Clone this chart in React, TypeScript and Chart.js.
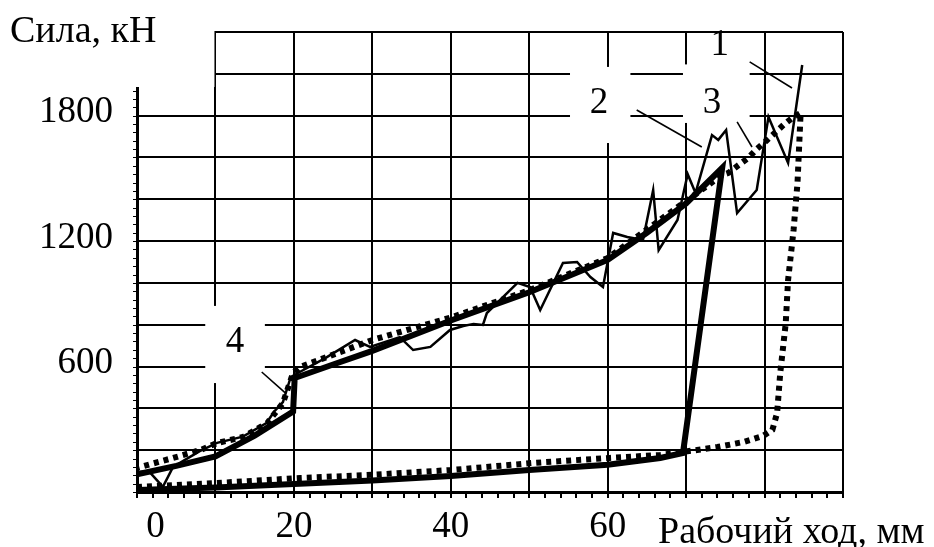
import React, { useEffect, useRef } from 'react';
import { Chart, registerables } from 'chart.js';

Chart.register(...registerables);

// Axis tick labels (mm, kN)
const xTickLabels = [0, 20, 40, 60];
const yTickLabels = [600, 1200, 1800];

// Curve 4 (heavy solid): upper branch 0 → 74.6 mm, steep drop, lower branch back to 0
const thickX = [0, 5, 10, 15, 19.9, 20.1, 25, 30, 40, 50, 60, 65, 70, 74.6, 69.6, 66.7, 60, 50, 40, 30, 20, 10, 0];
const thickY = [85, 125, 170, 270, 385, 545, 610, 675, 820, 955, 1110, 1240, 1380, 1550, 187, 163, 130, 105, 77, 55, 38, 22, 10];

// Curve 1/3 (dotted): lower branch, sharp rise at the end of stroke, upper branch back
const dotX = [0, 10.2, 20.8, 29.3, 40, 50.5, 60.3, 66.7, 71.4, 74, 77.3, 79.8, 81, 81.6, 82, 82.7, 83, 83.7, 84.2, 84.6,
  83.7, 82.4, 81.3, 80.2, 79, 77.9, 76.7, 75.4, 74.6, 69.3, 60, 50.1, 40.2, 30, 20.8, 19.9, 18.6, 16.6, 13.5, 10.2, 8.1, 4.6, 0];
const dotY = [24, 43, 67, 81, 105, 139, 163, 177, 201, 215, 239, 268, 297, 378, 569, 808, 1014, 1253, 1478, 1813,
  1794, 1755, 1717, 1679, 1640, 1597, 1564, 1526, 1516, 1373, 1119, 966, 837, 727, 598, 570, 425, 330, 263, 234, 201, 163, 115];

// Curve 2 (thin, measured): oscillating force along the working stroke
const thinX = [0, 1.5, 3.3, 4.6, 8, 10.2, 13.5, 16.5, 17.5, 18.6, 19.6, 20.8, 24, 27.8, 29.7, 33.5, 35.2, 37.4, 39.9, 41.6,
  42.9, 44.1, 44.6, 48.5, 50.1, 51.4, 54.3, 56.1, 57.8, 59.4, 60.7, 62.5, 64.5, 65.8, 66.5, 68.9, 70.2, 71.2, 73.3, 74.1,
  75.1, 76.5, 79, 80.5, 83, 84.8];
const thinY = [95, 100, 25, 120, 195, 235, 265, 330, 385, 430, 550, 575, 640, 727, 694, 741, 679, 694, 775, 794,
  804, 799, 856, 1000, 980, 870, 1095, 1100, 1028, 980, 1239, 1220, 1205, 1444, 1157, 1301, 1520, 1430, 1707, 1684,
  1731, 1334, 1444, 1794, 1574, 2042];

const zip = (xs: number[], ys: number[]) => xs.map((x, i) => ({ x, y: ys[i] }));

const FONT = "'Liberation Serif', 'Times New Roman', serif";

// Curve numbers with their leader lines (data units)
const callouts = [
  { text: '1', x: 74.3, y: 2090, from: [78.1, 2057], to: [83.5, 1932] },
  { text: '2', x: 58.9, y: 1813, from: [63.7, 1827], to: [72.0, 1650] },
  { text: '3', x: 73.3, y: 1813, from: [76.5, 1770], to: [78.4, 1650] },
  { text: '4', x: 12.5, y: 670, from: [15.9, 574], to: [18.9, 474] },
];

// White areas behind the callout numbers where the grid is interrupted (data units)
const gridGaps = [
  { x0: 55.2, x1: 62.9, y0: 1669, y1: 2033 },
  { x0: 69.6, x1: 78.1, y0: 1765, y1: 2045 },
  { x0: 8.7, x1: 16.3, y0: 521, y1: 890 },
];

const overlayPlugin = {
  id: 'overlay',
  beforeDatasetsDraw(chart: any) {
    const { ctx, chartArea, scales } = chart;
    const xs = scales.x, ys = scales.y;
    ctx.save();
    ctx.fillStyle = '#fff';
    for (const g of gridGaps) {
      const l = xs.getPixelForValue(g.x0), r = xs.getPixelForValue(g.x1);
      const t = ys.getPixelForValue(g.y1), b = ys.getPixelForValue(g.y0);
      ctx.fillRect(l, t, r - l, b - t);
    }
    // upper-left corner left open for the axis title
    const cornerR = xs.getPixelForValue(10) - 1;
    const cornerB = ys.getPixelForValue(1937);
    ctx.fillRect(chartArea.left - 6, 0, cornerR - chartArea.left + 6, cornerB);

    // minor ticks
    ctx.strokeStyle = '#000';
    ctx.lineWidth = 2;
    ctx.beginPath();
    for (let v = 0; v <= 90; v += 2) {
      const px = Math.round(xs.getPixelForValue(v));
      ctx.moveTo(px, chartArea.bottom);
      ctx.lineTo(px, chartArea.bottom + 6);
    }
    ctx.stroke();
    ctx.lineWidth = 1;
    ctx.beginPath();
    for (let v = 0; v <= 1920; v += 40) {
      const py = Math.round(ys.getPixelForValue(v)) + 0.5;
      ctx.moveTo(chartArea.left - 4, py);
      ctx.lineTo(chartArea.left, py);
    }
    ctx.stroke();
    ctx.restore();
  },
  afterDatasetsDraw(chart: any) {
    const { ctx, scales } = chart;
    const xs = scales.x, ys = scales.y;
    ctx.save();
    ctx.strokeStyle = '#000';
    ctx.lineWidth = 1.6;
    ctx.fillStyle = '#000';
    ctx.font = `37px ${FONT}`;
    ctx.textAlign = 'center';
    ctx.textBaseline = 'alphabetic';
    for (const c of callouts) {
      ctx.beginPath();
      ctx.moveTo(xs.getPixelForValue(c.from[0]), ys.getPixelForValue(c.from[1]));
      ctx.lineTo(xs.getPixelForValue(c.to[0]), ys.getPixelForValue(c.to[1]));
      ctx.stroke();
      ctx.fillText(c.text, xs.getPixelForValue(c.x), ys.getPixelForValue(c.y));
    }
    ctx.font = `38px ${FONT}`;
    ctx.textAlign = 'left';
    ctx.fillText('Сила, кН', 10, 42);
    ctx.fillText('Рабочий ход, мм', 658, 543);
    ctx.restore();
  },
};

export default function App() {
  const canvasRef = useRef<HTMLCanvasElement | null>(null);

  useEffect(() => {
    const canvas = canvasRef.current;
    if (!canvas) return;
    const chart = new Chart(canvas, {
      type: 'line',
      data: {
        datasets: [
          {
            label: '2',
            data: zip(thinX, thinY),
            borderColor: '#000',
            borderWidth: 2.5,
            pointRadius: 0,
            tension: 0,
            fill: false,
          },
          {
            label: '3',
            data: zip(dotX, dotY),
            borderColor: '#000',
            borderWidth: 6,
            borderDash: [5, 5],
            borderCapStyle: 'butt',
            pointRadius: 0,
            tension: 0,
            fill: false,
          },
          {
            label: '4',
            data: zip(thickX, thickY),
            borderColor: '#000',
            borderWidth: 6,
            pointRadius: 0,
            tension: 0,
            fill: false,
          },
        ],
      },
      options: {
        responsive: false,
        maintainAspectRatio: false,
        animation: false,
        parsing: false,
        normalized: true,
        layout: { padding: { top: 32, right: 91, left: 0, bottom: 0 } },
        plugins: {
          legend: { display: false },
          tooltip: { enabled: false },
        },
        scales: {
          x: {
            type: 'linear',
            min: 0,
            max: 90,
            afterFit: (s: any) => { s.height = 55; s.paddingLeft = 0; s.paddingRight = 0; },
            grid: { color: '#000', lineWidth: 2, drawTicks: false },
            border: { display: true, color: '#000', width: 3 },
            ticks: {
              stepSize: 10,
              autoSkip: false,
              maxRotation: 0,
              padding: 13,
              color: '#000',
              font: { family: FONT, size: 37 },
              callback: (v: any) => (xTickLabels.includes(Number(v)) ? (Number(v) === 0 ? '    0' : String(v)) : ''),
            },
          },
          y: {
            type: 'linear',
            min: 0,
            max: 2200,
            afterFit: (s: any) => { s.width = 137; s.paddingTop = 0; s.paddingBottom = 0; },
            grid: { color: '#000', lineWidth: 2, drawTicks: false },
            border: { display: true, color: '#000', width: 3 },
            ticks: {
              stepSize: 200,
              autoSkip: false,
              padding: 24,
              labelOffset: -3,
              color: '#000',
              font: { family: FONT, size: 37 },
              callback: (v: any) => (yTickLabels.includes(Number(v)) ? String(v) : ''),
            },
          },
        },
      },
      plugins: [overlayPlugin],
    });
    return () => chart.destroy();
  }, []);

  return (
    <div style={{ position: 'fixed', left: 0, top: 0, width: 934, height: 547, background: '#fff' }}>
      <canvas ref={canvasRef} width={934} height={547} style={{ display: 'block' }} />
    </div>
  );
}
